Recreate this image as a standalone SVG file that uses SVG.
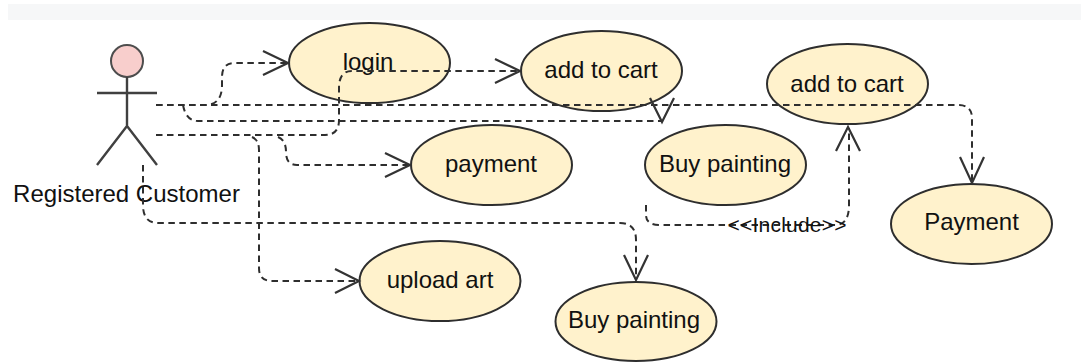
<svg xmlns="http://www.w3.org/2000/svg" width="1081" height="362" viewBox="0 0 1081 362">
<style>
text{font-family:"Liberation Sans",Arial,sans-serif;font-size:24px;fill:#111;text-anchor:middle}
.uc{fill:#fff2cc;stroke:#2e2e2e;stroke-width:2}
.st{fill:none;stroke:#404040;stroke-width:2.4}
.c{fill:none;stroke:#2e2e2e;stroke-width:2;stroke-dasharray:6.500 4.500}
.a{fill:none;stroke:#333;stroke-width:2.200}
</style>
<rect x="8" y="4" width="1073" height="16" fill="#f6f7f8"/>
<g id="actor">
<circle cx="127" cy="61" r="16" fill="#f8cecc" stroke="#4d4d4d" stroke-width="2"/>
<path class="st" d="M127 77V126M97 93H157M97 165L127 126L157 165"/>
<text x="126.500" y="202">Registered Customer</text>
</g>
<g id="login"><ellipse class="uc" cx="369.500" cy="63" rx="80.500" ry="40"/><text x="368" y="70">login</text></g>
<g id="add-to-cart-1"><ellipse class="uc" cx="601.500" cy="71" rx="80.500" ry="40"/><text x="601" y="78">add to cart</text></g>
<g id="payment-1"><ellipse class="uc" cx="491.500" cy="165" rx="80.500" ry="40"/><text x="491" y="172">payment</text></g>
<g id="buy-painting-1"><ellipse class="uc" cx="725.500" cy="165" rx="80.500" ry="40"/><text x="725" y="172">Buy painting</text></g>
<g id="add-to-cart-2"><ellipse class="uc" cx="847.500" cy="84" rx="80.500" ry="40"/><text x="847" y="92">add to cart</text></g>
<g id="payment-2"><ellipse class="uc" cx="971.500" cy="224" rx="80.500" ry="40"/><text x="971.500" y="230">Payment</text></g>
<g id="upload-art"><ellipse class="uc" cx="440" cy="281" rx="80.500" ry="40"/><text x="440" y="288">upload art</text></g>
<g id="buy-painting-2"><ellipse class="uc" cx="636" cy="321.500" rx="80.500" ry="39.500"/><text x="634" y="328">Buy painting</text></g>
<g id="connectors">
<path class="c" d="M156 105H205Q222 105 222 85V77Q222 63 235 63H287"/>
<path class="a" d="M263 51L288 63L263 75"/>
<path class="c" d="M156 105H958Q972 105 972 118V182"/>
<path class="a" d="M960 157L972 183L984 157"/>
<path class="c" d="M183 105Q186 121 198 121H661"/>
<path class="a" d="M650 98L662 122L674 98"/>
<path class="c" d="M156 135H325Q339 135 339 120V88Q339 71 352 71H520"/>
<path class="a" d="M495 59L520 71L495 83"/>
<path class="c" d="M278 137Q286 140 286 152Q286 165 297 165H410"/>
<path class="a" d="M385 153L410 165L385 177"/>
<path class="c" d="M252 137Q259 140 259 150V268Q259 281 272 281H358"/>
<path class="a" d="M335 269L359 281L335 293"/>
<path class="c" d="M143 165V205Q143 223 158 223H620Q636 223 636 240V279"/>
<path class="a" d="M624 255L636 280L648 255"/>
<path class="c" d="M646 205V215Q646 225 660 225H835Q849 225 849 205V128"/>
<path class="a" d="M836 151L848 127L860 151"/>
<text x="787" y="232" style="font-size:21px" textLength="119" lengthAdjust="spacing">&lt;&lt;Include&gt;&gt;</text>
</g>
</svg>
